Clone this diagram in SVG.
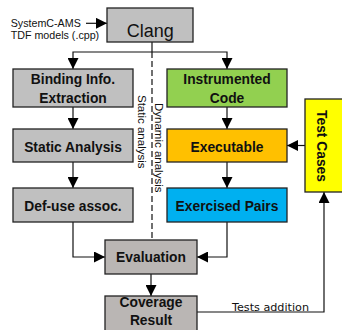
<svg xmlns="http://www.w3.org/2000/svg" width="342" height="330" viewBox="0 0 342 330">
  <defs>
    <marker id="ah" markerUnits="userSpaceOnUse" markerWidth="11" markerHeight="11" refX="11" refY="5.5" orient="auto">
      <path d="M0,0 L11,5.5 L0,11 z" fill="#000"/>
    </marker>
  </defs>
  <style>
    .box { stroke: #222; stroke-width: 1.3; }
    .g1 { fill: #c0c0c0; }
    .g2 { fill: #bab6b4; }
    .lbl { font-family: "Liberation Sans", Arial, sans-serif; font-weight: bold; font-size: 13.8px; fill: #111; text-anchor: middle; }
    .sm { font-family: "Liberation Sans", Arial, sans-serif; font-size: 10.7px; fill: #111; }
    .rot { font-family: "Liberation Sans", Arial, sans-serif; font-size: 11.5px; fill: #111; }
    .con { fill: none; stroke: #111; stroke-width: 1.2; }
  </style>
  <rect width="342" height="330" fill="#fff"/>

  <g id="connectors">
    <path class="con" d="M86,23.3 L107,23.3" marker-end="url(#ah)"/>
    <path class="con" d="M152,42 L152,52"/>
    <path class="con" d="M152,52 L152,240" stroke-dasharray="6 3"/>
    <path class="con" d="M152,52 L73,52 L73,69" marker-end="url(#ah)"/>
    <path class="con" d="M152,52 L227,52 L227,69" marker-end="url(#ah)"/>
    <path class="con" d="M73,107 L73,129" marker-end="url(#ah)"/>
    <path class="con" d="M73,162 L73,188" marker-end="url(#ah)"/>
    <path class="con" d="M227,107 L227,129" marker-end="url(#ah)"/>
    <path class="con" d="M227,162 L227,188" marker-end="url(#ah)"/>
    <path class="con" d="M73,222 L73,257 L105,257" marker-end="url(#ah)"/>
    <path class="con" d="M227,222 L227,257 L197,257" marker-end="url(#ah)"/>
    <path class="con" d="M151,274 L151,296" marker-end="url(#ah)"/>
    <path class="con" d="M305,145.5 L287,145.5" marker-end="url(#ah)"/>
    <path class="con" d="M197,312 L324,312 L324,192" marker-end="url(#ah)"/>
    <text x="232" y="310.5" font-family="'DejaVu Sans', sans-serif" font-size="11.2" fill="#111">Tests addition</text>
    <text class="rot" transform="translate(155,103) rotate(90)">Dynamic analysis</text>
    <text class="rot" transform="translate(137.8,95) rotate(90)">Static analysis</text>
  </g>

  <g id="input">
    <text class="sm" x="10.7" y="26.7">SystemC-AMS</text>
    <text class="sm" x="10.7" y="39.3">TDF models (.cpp)</text>
  </g>

  <g id="clang">
    <rect class="box g1" x="107" y="8" width="86" height="34"/>
    <text x="150.3" y="36.5" font-family="'Liberation Sans', Arial, sans-serif" font-size="18" fill="#111" text-anchor="middle">Clang</text>
  </g>

  <g id="binding">
    <rect class="box g1" x="13" y="69" width="120" height="38"/>
    <text class="lbl" x="73" y="84">Binding Info.</text>
    <text class="lbl" x="73" y="102.5">Extraction</text>
  </g>

  <g id="static">
    <rect class="box g1" x="13" y="129" width="120" height="33"/>
    <text class="lbl" x="73" y="151.5">Static Analysis</text>
  </g>

  <g id="defuse">
    <rect class="box g1" x="13" y="188" width="120" height="34"/>
    <text class="lbl" x="73" y="210.5">Def-use assoc.</text>
  </g>

  <g id="instrumented">
    <rect class="box" fill="#92d050" x="167" y="69" width="120" height="38"/>
    <text class="lbl" x="227" y="84">Instrumented</text>
    <text class="lbl" x="227" y="102.5">Code</text>
  </g>

  <g id="executable">
    <rect class="box" fill="#ffc000" x="167" y="129" width="120" height="33"/>
    <text class="lbl" x="227" y="151.5">Executable</text>
  </g>

  <g id="exercised">
    <rect class="box" fill="#00b0f0" x="167" y="188" width="120" height="34"/>
    <text class="lbl" x="227" y="210.5">Exercised Pairs</text>
  </g>

  <g id="testcases">
    <rect class="box" fill="#ffff00" x="305" y="99" width="39" height="93"/>
    <text class="lbl" font-size="13" transform="translate(316.8,146) rotate(90)">Test Cases</text>
  </g>

  <g id="evaluation">
    <rect class="box g2" x="105" y="240" width="92" height="34"/>
    <text class="lbl" x="151" y="262.3">Evaluation</text>
  </g>

  <g id="coverage">
    <rect class="box g2" x="105" y="296" width="92" height="40"/>
    <text class="lbl" x="151" y="306.5">Coverage</text>
    <text class="lbl" x="151" y="325">Result</text>
  </g>
</svg>
